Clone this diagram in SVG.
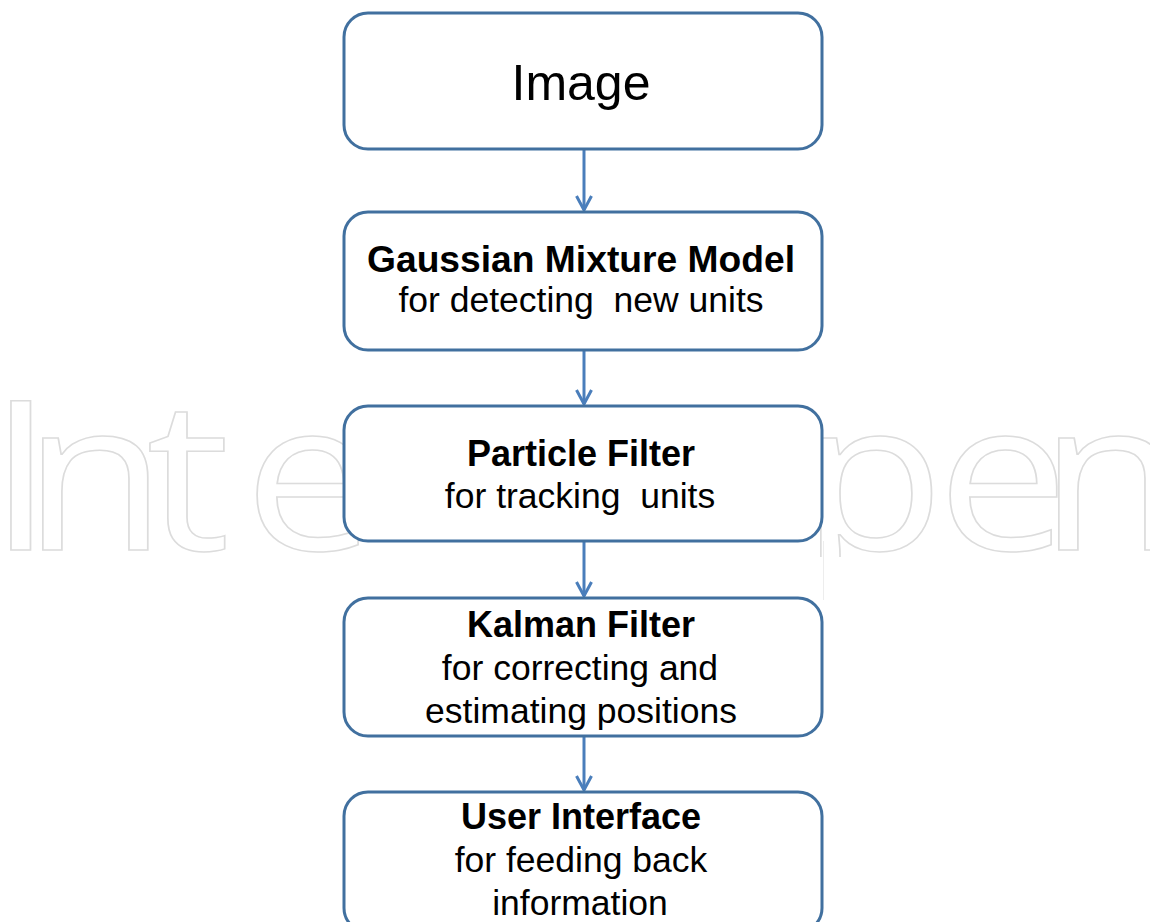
<svg xmlns="http://www.w3.org/2000/svg" width="1150" height="922" viewBox="0 0 1150 922">
<style>
.wm{font-family:"Open Sans","Liberation Sans",sans-serif;font-size:210px;fill:none;stroke:#dcdcdc;stroke-width:1.5}
.box{fill:#ffffff;stroke:#41709f;stroke-width:3}
.t{font-family:"Liberation Sans",Arial,sans-serif;fill:#000;text-anchor:middle;white-space:pre}
.b{font-weight:bold;font-size:36px}
.r{font-size:35.5px}
.conn{stroke:#4a7ebb;stroke-width:3;fill:none}
</style>
<defs>
<marker id="ah" viewBox="0 0 18 18" refX="16" refY="9" markerWidth="18" markerHeight="18" markerUnits="userSpaceOnUse" orient="auto">
<path d="M2,1.5 L16,9 L2,16.5" fill="none" stroke="#4a7ebb" stroke-width="3"/>
</marker>
<clipPath id="wmclip"><rect x="0" y="0" width="1150" height="557"/></clipPath>
</defs>
<rect width="1150" height="922" fill="#ffffff"/>
<g id="watermark" clip-path="url(#wmclip)">
<g transform="scale(1.12,1)">
<text class="wm" x="-10.8 20.3 130.5 217.9" y="550">Inte</text>
<text class="wm" x="714.9 836.6 927.4" y="550">pen</text>
</g>
</g>
<line x1="823.5" y1="541" x2="823.5" y2="600" stroke="#ededed" stroke-width="1"/>
<g id="connectors">
<line class="conn" x1="584" y1="150" x2="584" y2="210" marker-end="url(#ah)"/>
<line class="conn" x1="584" y1="351" x2="584" y2="404" marker-end="url(#ah)"/>
<line class="conn" x1="584" y1="542" x2="584" y2="596" marker-end="url(#ah)"/>
<line class="conn" x1="584" y1="737" x2="584" y2="790" marker-end="url(#ah)"/>
</g>
<g id="node-image">
<rect class="box" x="344" y="13" width="478" height="136" rx="24"/>
<text class="t" x="581" y="100" font-size="50">Image</text>
</g>
<g id="node-gmm">
<rect class="box" x="344" y="212" width="478" height="138" rx="24"/>
<text class="t b" x="581" y="272" textLength="428" lengthAdjust="spacingAndGlyphs">Gaussian Mixture Model</text>
<text class="t r" x="581" y="312" xml:space="preserve">for detecting  new units</text>
</g>
<g id="node-pf">
<rect class="box" x="344" y="406" width="478" height="135" rx="24"/>
<text class="t b" x="581" y="466">Particle Filter</text>
<text class="t r" x="580" y="508" xml:space="preserve">for tracking  units</text>
</g>
<g id="node-kf">
<rect class="box" x="344" y="598" width="478" height="138" rx="24"/>
<text class="t b" x="581" y="637">Kalman Filter</text>
<text class="t r" x="580" y="680">for correcting and</text>
<text class="t r" x="581" y="723">estimating positions</text>
</g>
<g id="node-ui">
<rect class="box" x="344" y="792" width="478" height="140" rx="24"/>
<text class="t b" x="581" y="829">User Interface</text>
<text class="t r" x="581" y="872">for feeding back</text>
<text class="t r" x="580" y="915">information</text>
</g>
</svg>
